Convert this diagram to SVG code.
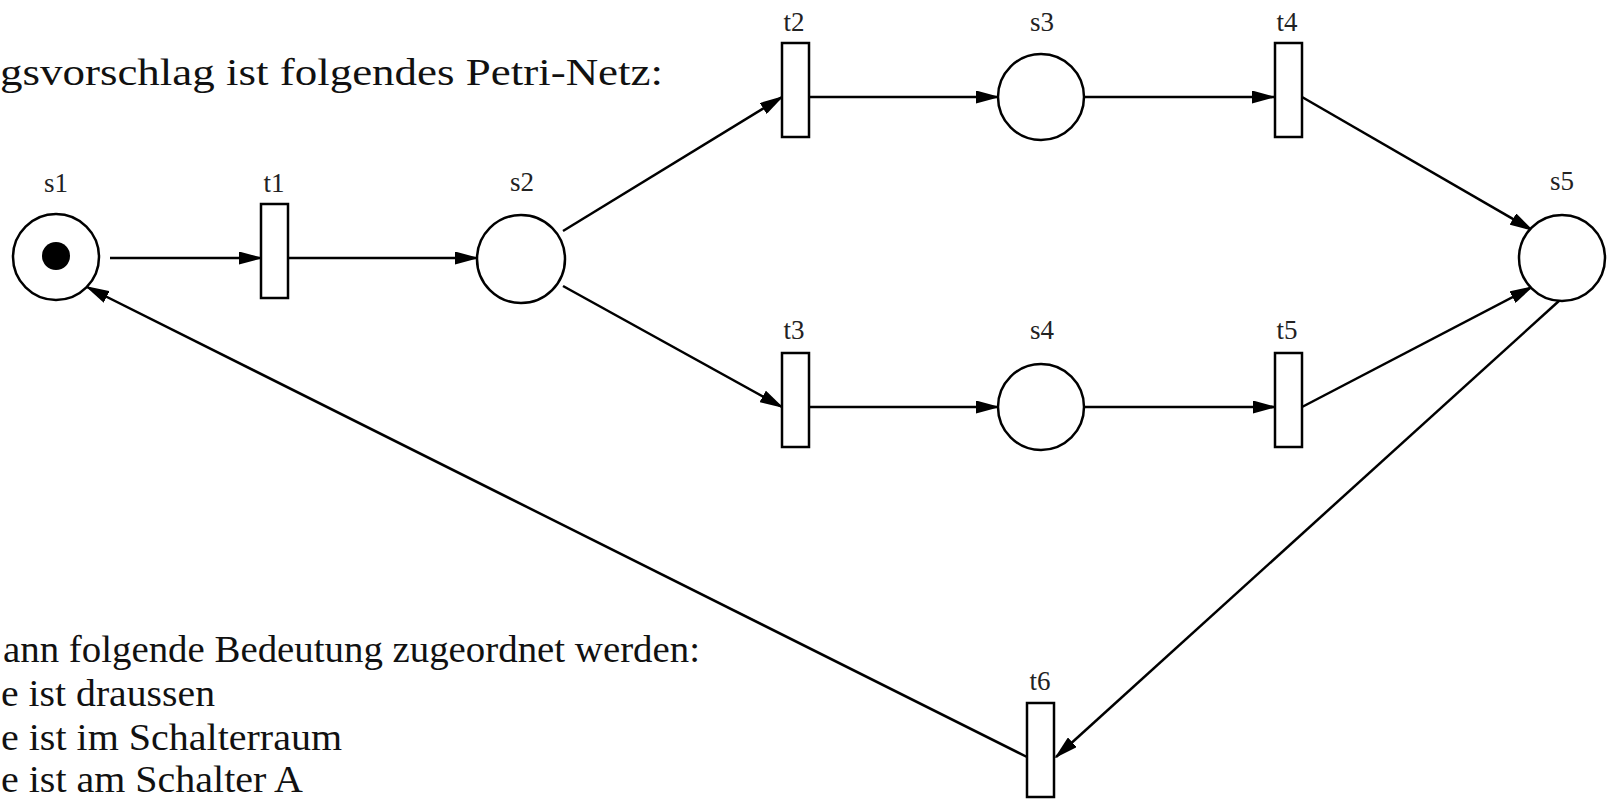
<svg xmlns="http://www.w3.org/2000/svg" width="1612" height="800" viewBox="0 0 1612 800">
<style>
.place{fill:#fff;stroke:#000;stroke-width:2.5}
.trans{fill:#fff;stroke:#000;stroke-width:2.5}
.lbl{font-family:"Liberation Serif","Times New Roman",serif;font-size:27px;fill:#222;text-anchor:middle}
.txt{font-family:"Liberation Serif","Times New Roman",serif;font-size:38px;fill:#111}
.arc{stroke:#000;stroke-width:2.5;fill:none;marker-end:url(#ah)}
</style>
<defs>
<marker id="ah" markerWidth="24" markerHeight="13" refX="22" refY="6.5" orient="auto" markerUnits="userSpaceOnUse">
<path d="M0,0 L24,6.5 L0,13 z" fill="#000"/>
</marker>
</defs>
<rect width="1612" height="800" fill="#fff"/>
<g id="texts">
<text class="txt" x="0" y="85" textLength="663" lengthAdjust="spacingAndGlyphs">gsvorschlag ist folgendes Petri-Netz:</text>
<text class="txt" x="3" y="662" textLength="697" lengthAdjust="spacingAndGlyphs">ann folgende Bedeutung zugeordnet werden:</text>
<text class="txt" x="1" y="706" textLength="214" lengthAdjust="spacingAndGlyphs">e ist draussen</text>
<text class="txt" x="1" y="750" textLength="341" lengthAdjust="spacingAndGlyphs">e ist im Schalterraum</text>
<text class="txt" x="1" y="792" textLength="302" lengthAdjust="spacingAndGlyphs">e ist am Schalter A</text>
</g>
<g id="connectors">
<line class="arc" x1="110" y1="258" x2="261" y2="258"/>
<line class="arc" x1="288" y1="258" x2="477" y2="258"/>
<line class="arc" x1="563" y1="231" x2="782" y2="97"/>
<line class="arc" x1="563" y1="286" x2="782" y2="407"/>
<line class="arc" x1="809" y1="97" x2="998" y2="97"/>
<line class="arc" x1="1084" y1="97" x2="1274" y2="97"/>
<line class="arc" x1="809" y1="407" x2="998" y2="407"/>
<line class="arc" x1="1084" y1="407" x2="1275" y2="407"/>
<line class="arc" x1="1302" y1="97" x2="1532" y2="230"/>
<line class="arc" x1="1302" y1="407" x2="1532" y2="287"/>
<line class="arc" x1="1560" y1="300" x2="1056" y2="757"/>
<line class="arc" x1="1027" y1="757" x2="87" y2="287"/>
</g>
<g id="s1">
<circle class="place" cx="56" cy="257" r="43"/>
<circle cx="56" cy="256" r="14" fill="#000"/>
<text class="lbl" x="56" y="192">s1</text>
</g>
<g id="t1">
<rect class="trans" x="261" y="204" width="27" height="94"/>
<text class="lbl" x="274" y="192">t1</text>
</g>
<g id="s2">
<circle class="place" cx="521" cy="259" r="44"/>
<text class="lbl" x="522" y="191">s2</text>
</g>
<g id="t2">
<rect class="trans" x="782" y="43" width="27" height="94"/>
<text class="lbl" x="794" y="31">t2</text>
</g>
<g id="s3">
<circle class="place" cx="1041" cy="97" r="43"/>
<text class="lbl" x="1042" y="31">s3</text>
</g>
<g id="t4">
<rect class="trans" x="1275" y="43" width="27" height="94"/>
<text class="lbl" x="1287" y="31">t4</text>
</g>
<g id="t3">
<rect class="trans" x="782" y="353" width="27" height="94"/>
<text class="lbl" x="794" y="339">t3</text>
</g>
<g id="s4">
<circle class="place" cx="1041" cy="407" r="43"/>
<text class="lbl" x="1042" y="339">s4</text>
</g>
<g id="t5">
<rect class="trans" x="1275" y="353" width="27" height="94"/>
<text class="lbl" x="1287" y="339">t5</text>
</g>
<g id="s5">
<circle class="place" cx="1562" cy="258" r="43"/>
<text class="lbl" x="1562" y="190">s5</text>
</g>
<g id="t6">
<rect class="trans" x="1027" y="703" width="27" height="94"/>
<text class="lbl" x="1040" y="690">t6</text>
</g>
</svg>
